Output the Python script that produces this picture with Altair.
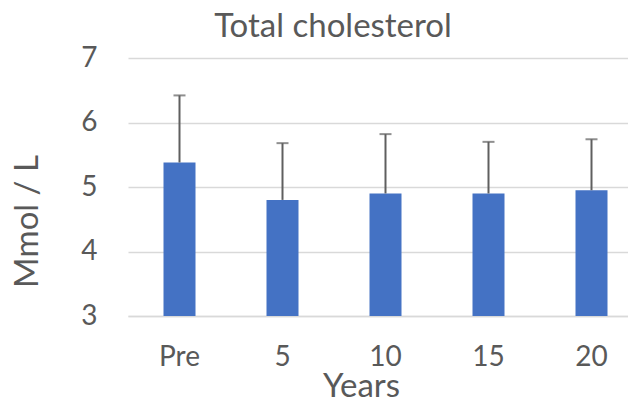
import altair as alt
import pandas as pd

categories = ["Pre", "5", "10", "15", "20"]
means = [5.38, 4.80, 4.90, 4.90, 4.95]
uppers = [6.42, 5.68, 5.82, 5.70, 5.74]

df = pd.DataFrame({"year": categories, "mean": means, "upper": uppers})

FONT = "Lato"
TXT = "#595959"

x = alt.X("year:N", sort=categories,
          scale=alt.Scale(range=[0, 515], paddingInner=0.689, paddingOuter=0.3445),
          axis=alt.Axis(title="Years", labelAngle=0, labelFontSize=28, labelColor=TXT,
                        labelFont=FONT, labelPadding=27, ticks=False, domain=True,
                        domainColor="#D9D9D9", domainWidth=1.5,
                        titleFontSize=33, titleFont=FONT, titleColor=TXT,
                        titleFontWeight="normal", titleX=233, titleY=54))

y_scale = alt.Scale(domain=[3, 7], nice=False, zero=False)

bars = alt.Chart(df).mark_bar(size=32, color="#4472C4").encode(
    x=x,
    y=alt.Y("mean:Q", scale=y_scale,
            axis=alt.Axis(title="Mmol / L", values=[3, 4, 5, 6, 7], format="d", grid=True,
                          gridColor="#D9D9D9", gridWidth=1.5, domain=False, ticks=False,
                          labelFontSize=28, labelColor=TXT, labelFont=FONT, labelPadding=31,
                          titleFontSize=33, titleFont=FONT, titleColor=TXT,
                          titleFontWeight="normal", titleX=-84, titleY=163)),
    y2=alt.datum(3),
)

stems = alt.Chart(df).mark_rule(color="#5F5F5F", strokeWidth=2).encode(
    x=alt.X("year:N", sort=categories),
    y=alt.Y("mean:Q", scale=y_scale),
    y2="upper:Q",
)

caps = alt.Chart(df).mark_tick(color="#5F5F5F", thickness=2, size=12, orient="horizontal").encode(
    x=alt.X("year:N", sort=categories),
    y=alt.Y("upper:Q", scale=y_scale),
)

chart = alt.layer(bars, stems, caps).properties(
    width=500, height=258,
    title=alt.TitleParams("Total cholesterol", fontSize=33, font=FONT, color=TXT,
                          fontWeight="normal", anchor="middle", frame="group", dx=-45, offset=0),
    autosize=alt.AutoSizeParams(type="none"),
    padding={"left": 120, "top": 50, "right": 0, "bottom": 86},
).configure_view(stroke=None)

chart.save("out.html", embed_options={"renderer": "svg", "actions": False})
